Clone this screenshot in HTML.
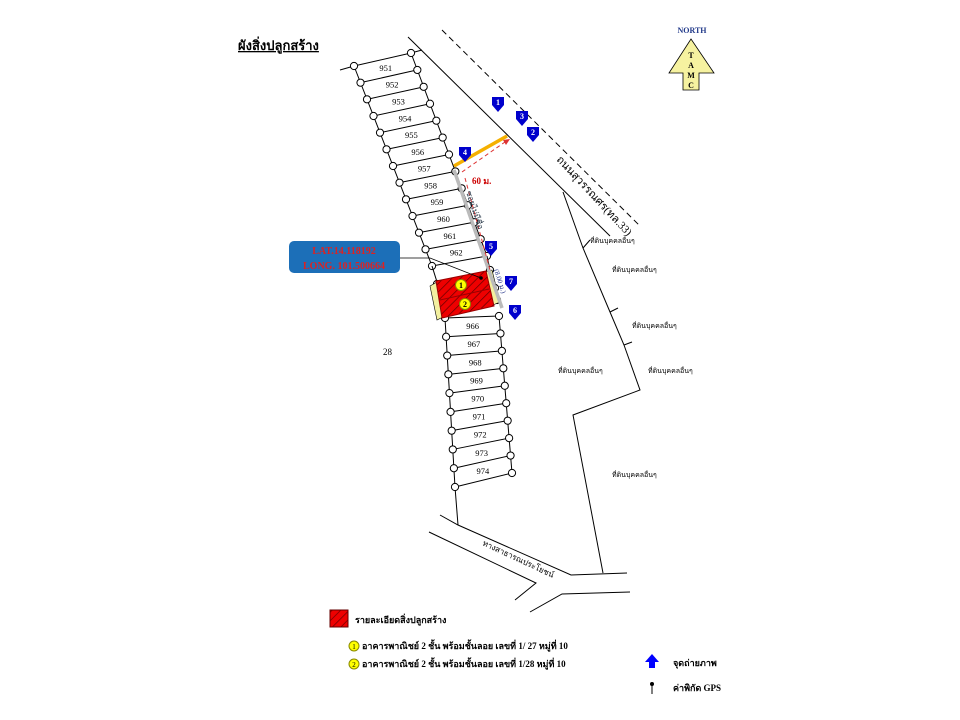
<!DOCTYPE html>
<html><head><meta charset="utf-8"><style>
html,body{margin:0;padding:0;background:#fff}
svg{display:block}
text{font-family:"Liberation Serif","Noto Serif CJK SC",serif}
.th{font-family:"Liberation Serif","Noto Sans CJK SC","WenQuanYi Zen Hei",serif}
</style></head><body>
<svg id="s" width="960" height="720" viewBox="0 0 960 720" xmlns="http://www.w3.org/2000/svg">
<defs>
<pattern id="h" width="6" height="6" patternUnits="userSpaceOnUse" patternTransform="rotate(45)">
<rect width="6" height="6" fill="#e00"/><line x1="0" y1="0" x2="0" y2="6" stroke="#600" stroke-width="1.4"/>
</pattern>
</defs>
<text x="238" y="50" class="th" font-size="13" font-weight="bold" text-decoration="underline">ผังสิ่งปลูกสร้าง</text>

<line x1="408" y1="37" x2="610" y2="236" stroke="#000" stroke-width="1"/>
<line x1="442" y1="30" x2="640" y2="226" stroke="#000" stroke-width="1" stroke-dasharray="6,4"/>
<text class="th" font-size="11" transform="translate(556,160) rotate(47)">ถนนสุวรรณศร(ทล.33)</text>

<polyline points="563,192 583,248 610,312 624,345 640,390 573,415 603,573" fill="none" stroke="#000"/>
<line x1="583" y1="248" x2="590" y2="240" stroke="#000"/>
<line x1="610" y1="312" x2="618" y2="308" stroke="#000"/>
<line x1="624" y1="345" x2="632" y2="342" stroke="#000"/>
<g class="th" font-size="7">
<text x="590" y="243">ที่ดินบุคคลอื่นๆ</text>
<text x="612" y="272">ที่ดินบุคคลอื่นๆ</text>
<text x="632" y="328">ที่ดินบุคคลอื่นๆ</text>
<text x="648" y="373">ที่ดินบุคคลอื่นๆ</text>
<text x="558" y="373">ที่ดินบุคคลอื่นๆ</text>
<text x="612" y="477">ที่ดินบุคคลอื่นๆ</text>
</g>
<polyline points="440,515 458,525 571,575 627,573" fill="none" stroke="#000"/>
<polyline points="429,532 536,583 515,600" fill="none" stroke="#000"/>
<polyline points="530,612 562,594 630,592" fill="none" stroke="#000"/>
<text class="th" font-size="8" transform="translate(482,545) rotate(25)">ทางสาธารณประโยชน์</text>
<line x1="455" y1="487" x2="458" y2="525" stroke="#000"/>
<line x1="340" y1="70" x2="354" y2="66" stroke="#000"/>
<line x1="411" y1="53" x2="422" y2="50" stroke="#000"/>
<text x="383" y="355" font-size="9">28</text>

<g id="lots" stroke="#000" fill="none"></g>

<polygon points="430,286 437,282 443,317 437,320" fill="#f3f0a0" stroke="#000" stroke-width=".6"/>
<polygon points="485,272 492,270 500,302 493,305" fill="#f3f0a0" stroke="#000" stroke-width=".6"/>
<polygon points="436,281 486,271 494,306 442,318" fill="url(#h)" stroke="#900" stroke-width="1"/>
<line x1="440" y1="300" x2="489" y2="289" stroke="#900"/>
<circle cx="461" cy="285" r="5.5" fill="#ff0" stroke="#880"/><text x="461" y="288" font-size="8" text-anchor="middle" font-weight="bold">1</text>
<circle cx="465" cy="304" r="5.5" fill="#ff0" stroke="#880"/><text x="465" y="307" font-size="8" text-anchor="middle" font-weight="bold">2</text>

<line x1="454" y1="170" x2="502" y2="308" stroke="#bbb" stroke-width="3.5"/>
<line x1="454" y1="166" x2="507" y2="136" stroke="#f5b000" stroke-width="3.5"/>
<polyline points="462,172 505,142" fill="none" stroke="#d33" stroke-dasharray="4,3"/>
<polygon points="510,139 503,140 506,145" fill="#d33"/>
<polyline points="465,178 490,270" fill="none" stroke="#d33" stroke-dasharray="4,3"/>
<text x="472" y="184" font-size="9" fill="#c00" font-weight="bold">60 ม.</text>
<text class="th" font-size="8" fill="#234" transform="translate(466,192) rotate(72)">ซอยไม่มีชื่อ</text>
<text font-size="7" fill="#238" transform="translate(494,270) rotate(72)">(8.00 ม.)</text>

<rect x="289" y="241" width="111" height="32" rx="5" fill="#1c6fb8"/>
<text x="344" y="254" font-size="10" fill="#d22" font-weight="bold" text-anchor="middle">LAT.14.118192</text>
<text x="344" y="269" font-size="10" fill="#d22" font-weight="bold" text-anchor="middle">LONG. 101.500664</text>
<polyline points="400,258 430,258 481,278" fill="none" stroke="#000" stroke-width=".8"/>
<circle cx="481" cy="278" r="1.8" fill="#000"/>

<g id="mk"></g>

<text x="692" y="33" font-size="8" font-weight="bold" fill="#223a8a" text-anchor="middle">NORTH</text>
<polygon points="691,39 714,73 699,73 699,90 683,90 683,73 669,73" fill="#f6f2a0" stroke="#000" stroke-width=".8"/>
<g font-size="8" font-weight="bold" text-anchor="middle"><text x="691" y="58">T</text><text x="691" y="68">A</text><text x="691" y="78">M</text><text x="691" y="88">C</text></g>

<rect x="330" y="610" width="18" height="17" fill="url(#h)" stroke="#600"/>
<text x="355" y="623" class="th" font-size="9" font-weight="bold">รายละเอียดสิ่งปลูกสร้าง</text>
<circle cx="354" cy="646" r="5" fill="#ff0" stroke="#880"/><text x="354" y="649" font-size="7" text-anchor="middle">1</text>
<circle cx="354" cy="664" r="5" fill="#ff0" stroke="#880"/><text x="354" y="667" font-size="7" text-anchor="middle">2</text>
<text x="362" y="649" class="th" font-size="9" font-weight="bold">อาคารพาณิชย์ 2 ชั้น พร้อมชั้นลอย เลขที่ 1/ 27 หมู่ที่ 10</text>
<text x="362" y="667" class="th" font-size="9" font-weight="bold">อาคารพาณิชย์ 2 ชั้น พร้อมชั้นลอย เลขที่ 1/28 หมู่ที่ 10</text>
<polygon points="652,654 659,662 655,662 655,668 649,668 649,662 645,662" fill="#00f"/>
<text x="673" y="666" class="th" font-size="9" font-weight="bold">จุดถ่ายภาพ</text>
<line x1="652" y1="684" x2="652" y2="694" stroke="#000"/><circle cx="652" cy="684" r="2" fill="#000"/>
<text x="673" y="691" class="th" font-size="9" font-weight="bold">ค่าพิกัด GPS</text>
</svg>
<script>
var NS="http://www.w3.org/2000/svg",g=document.getElementById('lots');
function el(t,a,p){var e=document.createElementNS(NS,t);for(var k in a)e.setAttribute(k,a[k]);(p||g).appendChild(e);return e;}
function strip(L0,L1,R0,R1,n,start){
 var L=[],R=[];
 for(var i=0;i<=n;i++){var t=i/n;L.push([L0[0]+(L1[0]-L0[0])*t,L0[1]+(L1[1]-L0[1])*t]);R.push([R0[0]+(R1[0]-R0[0])*t,R0[1]+(R1[1]-R0[1])*t]);}
 el('line',{x1:L0[0],y1:L0[1],x2:L1[0],y2:L1[1]});
 el('line',{x1:R0[0],y1:R0[1],x2:R1[0],y2:R1[1]});
 for(var i=0;i<=n;i++){el('line',{x1:L[i][0],y1:L[i][1],x2:R[i][0],y2:R[i][1]});}
 for(var i=0;i<n;i++){var cx=(L[i][0]+R[i][0]+L[i+1][0]+R[i+1][0])/4,cy=(L[i][1]+R[i][1]+L[i+1][1]+R[i+1][1])/4;
  var tx=el('text',{x:cx,y:cy+3,'font-size':8.5,'text-anchor':'middle',stroke:'none',fill:'#000'});tx.textContent=start+i;}
 for(var i=0;i<=n;i++){el('circle',{cx:L[i][0],cy:L[i][1],r:3.6,fill:'#fff'});el('circle',{cx:R[i][0],cy:R[i][1],r:3.6,fill:'#fff'});}
}
strip([354,66],[432,266],[411,53],[487,256],12,951);
el('line',{x1:432,y1:266,x2:437,y2:282});el('line',{x1:487,y1:256,x2:490,y2:270});
el('line',{x1:437,y1:282,x2:445,y2:318});
el('circle',{cx:437,cy:284,r:3.6,fill:'#fff'});el('circle',{cx:490,cy:270,r:3.6,fill:'#fff'});
el('circle',{cx:439,cy:297,r:3.6,fill:'#fff'});el('circle',{cx:441,cy:306,r:3.6,fill:'#fff'});
el('circle',{cx:495,cy:288,r:3.6,fill:'#fff'});el('circle',{cx:497,cy:300,r:3.6,fill:'#fff'});
strip([445,318],[455,487],[499,316],[512,473],9,966);
var m=document.getElementById('mk');
[[498,103,1],[522,117,3],[533,133,2],[465,153,4],[491,247,5],[511,282,7],[515,311,6]].forEach(function(a){
 var x=a[0],y=a[1];
 el('path',{d:'M'+(x-6)+','+(y-6)+' h12 v8 l-6,7 l-6,-7 z',fill:'#00c'},m);
 var t=el('text',{x:x,y:y+2,'font-size':8,'font-weight':'bold','text-anchor':'middle',fill:'#fff'},m);t.textContent=a[2];
});
</script>
</body></html>
